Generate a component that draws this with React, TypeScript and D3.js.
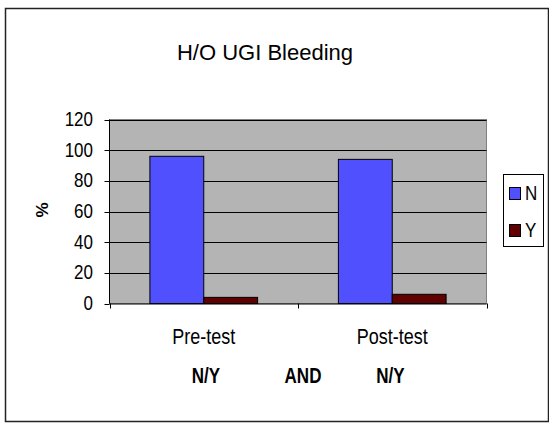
import React from 'react'
import * as d3 from 'd3'

const categories = ['Pre-test', 'Post-test']
const seriesNames = ['N', 'Y']
const valuesN = [96, 94]
const valuesY = [4, 6]
const yTicks = [0, 20, 40, 60, 80, 100, 120]
const colors = ['#5050ff', '#600000']

const W = 549
const H = 423
const font = 'Arial, "Liberation Sans", sans-serif'

// text that is drawn a little taller than wide, like the old chart renderer
const Stretched = ({x, y, s, anchor, size, bold, children}: any) => (
  <text
    transform={`translate(${x},${y}) scale(1,${s})`}
    textAnchor={anchor}
    fontSize={size}
    fontWeight={bold ? 'bold' : 'normal'}
    fontFamily={font}
    fill="#000"
  >
    {children}
  </text>
)

const App = () => {
  const left = 109.5
  const right = 486.5
  const top = 119.5
  const bottom = 303.5

  const x = d3.scaleBand().domain(categories).range([left, right]).padding(0)
  const xs = d3.scaleBand().domain(seriesNames).range([0, x.bandwidth()]).paddingInner(0).paddingOuter(0.75)
  const y = d3.scaleLinear().domain([0, 120]).range([bottom, top])

  const series = [valuesN, valuesY]

  const bars = categories.map((c, i) =>
    series.map((vals, j) => (
      <rect
        key={c + j}
        x={(x(c) as number) + (xs(seriesNames[j]) as number)}
        y={y(vals[i])}
        width={xs.bandwidth()}
        height={bottom - y(vals[i])}
        fill={colors[j]}
        stroke="#000"
        strokeWidth={1}
      />
    ))
  )

  const grid = yTicks.filter(t => t > 0).map(t => (
    <line key={t} x1={left} x2={right} y1={Math.round(y(t)) + 0.5} y2={Math.round(y(t)) + 0.5} stroke="#000" strokeWidth={1} />
  ))

  const yLabels = yTicks.map(t => (
    <g key={t}>
      <line x1={left - 5} x2={left} y1={Math.round(y(t)) + 0.5} y2={Math.round(y(t)) + 0.5} stroke="#000" />
      <Stretched x={93} y={y(t) + 6.5} s={1.15} anchor="end" size={17}>{t}</Stretched>
    </g>
  ))

  const xBounds = [left, (x(categories[1]) as number), right]
  const xTicks = xBounds.map((b, i) => (
    <line key={i} x1={Math.round(b) + 0.5} x2={Math.round(b) + 0.5} y1={bottom} y2={bottom + 5} stroke="#000" />
  ))

  const xLabels = categories.map(c => (
    <Stretched key={c} x={(x(c) as number) + x.bandwidth() / 2} y={344} s={1.2} anchor="middle" size={18}>{c}</Stretched>
  ))

  return (
    <svg width={W} height={H} style={{position: 'absolute', left: 0, top: 0, background: '#fff'}}>
      <rect x={5.5} y={8.5} width={543} height={413} fill="#fff" stroke="#222" strokeWidth={1.5} />

      <text x={265} y={60} textAnchor="middle" fontSize={22} fontFamily={font} fill="#000">H/O UGI Bleeding</text>

      <rect x={left} y={top} width={right - left} height={bottom - top} fill="#b4b4b4" stroke="#808080" />
      {grid}
      {bars}
      <line x1={left} x2={left} y1={top} y2={bottom} stroke="#000" />
      <line x1={left} x2={right} y1={bottom + 0.5} y2={bottom + 0.5} stroke="#000" />
      {yLabels}
      {xTicks}
      {xLabels}

      <text transform="translate(48,210) rotate(-90)" textAnchor="middle" fontSize={17} fontWeight="bold" fontFamily={font} fill="#000">%</text>

      <Stretched x={206} y={383} s={1.25} anchor="middle" size={17} bold>N/Y</Stretched>
      <Stretched x={303} y={383} s={1.25} anchor="middle" size={17} bold>AND</Stretched>
      <Stretched x={390.5} y={383} s={1.25} anchor="middle" size={17} bold>N/Y</Stretched>

      <rect x={503.5} y={174.5} width={40} height={72} fill="#fff" stroke="#000" />
      {seriesNames.map((n, i) => (
        <g key={n}>
          <rect x={509.5} y={187.5 + i * 37} width={11} height={12} fill={colors[i]} stroke="#000" />
          <Stretched x={525} y={200 + i * 37} s={1.15} anchor="start" size={17}>{n}</Stretched>
        </g>
      ))}
    </svg>
  )
}

export default App
